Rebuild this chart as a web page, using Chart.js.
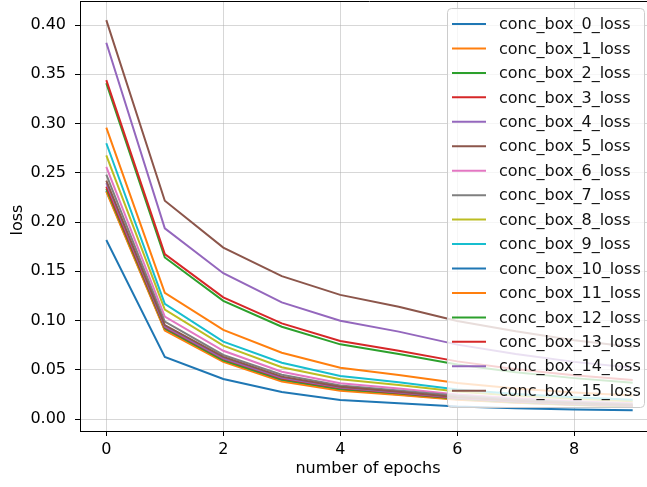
<!DOCTYPE html>
<html>
<head>
<meta charset="utf-8">
<script src="https://cdn.jsdelivr.net/npm/chart.js@4.4.1/dist/chart.umd.min.js"></script>
<style>
  html, body { margin: 0; padding: 0; background: #fff; overflow: hidden; }
  #wrap { width: 647px; height: 487px; overflow: hidden; }
</style>
</head>
<body>
<div id="wrap"><canvas id="myChart" width="680" height="487"></canvas></div>
<script>
// epochs on the x axis
const epochs = [0, 1, 2, 3, 4, 5, 6, 7, 8, 9];
const xTicks = [0, 2, 4, 6, 8];
const yTicks = [0, 0.05, 0.10, 0.15, 0.20, 0.25, 0.30, 0.35, 0.40];

// loss per box
const box0 = [0.1817, 0.063, 0.0406, 0.0274, 0.0193, 0.016, 0.0127, 0.011, 0.0097, 0.0088];
const box1 = [0.2958, 0.128, 0.0904, 0.0673, 0.0521, 0.0447, 0.0365, 0.031, 0.027, 0.0238];
const box2 = [0.341, 0.164, 0.120, 0.0937, 0.0758, 0.066, 0.0553, 0.0475, 0.0415, 0.0368];
const box3 = [0.344, 0.1675, 0.1235, 0.0971, 0.0792, 0.0693, 0.0585, 0.0505, 0.0445, 0.0396];
const box4 = [0.382, 0.1936, 0.148, 0.1184, 0.0998, 0.0887, 0.0755, 0.066, 0.058, 0.052];
const box5 = [0.405, 0.2216, 0.174, 0.145, 0.126, 0.114, 0.0995, 0.089, 0.080, 0.073];
const box6 = [0.256, 0.104, 0.0693, 0.048, 0.0362, 0.031, 0.025, 0.021, 0.018, 0.016];
const box7 = [0.248, 0.099, 0.065, 0.045, 0.034, 0.029, 0.0235, 0.0198, 0.017, 0.015];
const box8 = [0.2677, 0.111, 0.0745, 0.0525, 0.0403, 0.0345, 0.028, 0.0237, 0.0205, 0.018];
const box9 = [0.280, 0.1168, 0.0785, 0.0572, 0.0437, 0.0372, 0.030, 0.0255, 0.022, 0.0195];
const box10 = [0.232, 0.0905, 0.059, 0.039, 0.030, 0.025, 0.020, 0.0168, 0.0145, 0.0127];
const box11 = [0.2308, 0.0897, 0.058, 0.038, 0.0287, 0.0244, 0.0195, 0.0165, 0.0143, 0.0125];
const box12 = [0.234, 0.092, 0.0595, 0.040, 0.0305, 0.0258, 0.0205, 0.0172, 0.0148, 0.013];
const box13 = [0.236, 0.093, 0.061, 0.041, 0.0315, 0.0265, 0.021, 0.0177, 0.0152, 0.0134];
const box14 = [0.2396, 0.094, 0.0615, 0.0418, 0.032, 0.027, 0.0215, 0.018, 0.0155, 0.0137];
const box15 = [0.242, 0.0954, 0.063, 0.043, 0.0328, 0.0277, 0.022, 0.0185, 0.016, 0.014];

const boxes = [box0, box1, box2, box3, box4, box5, box6, box7, box8, box9,
               box10, box11, box12, box13, box14, box15];
const labels = boxes.map((b, i) => 'conc_box_' + i + '_loss');
const tab10 = ['#1f77b4', '#ff7f0e', '#2ca02c', '#d62728', '#9467bd',
               '#8c564b', '#e377c2', '#7f7f7f', '#bcbd22', '#17becf'];

const FONT = 'DejaVu Sans';
const FS = 16;

// top spine, axis titles and the legend box inside the plot
const extras = {
    id: 'extras',
    afterDraw(chart) {
        const ctx = chart.ctx;
        const a = chart.chartArea;
        ctx.save();
        ctx.strokeStyle = '#000';
        ctx.lineWidth = 1;
        ctx.beginPath();
        ctx.moveTo(a.left, a.top + 0.5);
        ctx.lineTo(a.right, a.top + 0.5);
        ctx.stroke();

        ctx.fillStyle = '#000';
        ctx.font = FS + 'px "' + FONT + '"';
        ctx.textAlign = 'center';
        ctx.textBaseline = 'middle';
        ctx.fillText('number of epochs', 368, 469);
        ctx.save();
        ctx.translate(18, 220);
        ctx.rotate(-Math.PI / 2);
        ctx.fillText('loss', 0, 0);
        ctx.restore();

        // legend
        const lx = 447.5, ly = 8.5, lw = 197, lh = 399, r = 4;
        ctx.beginPath();
        ctx.roundRect(lx, ly, lw, lh, r);
        ctx.fillStyle = 'rgba(255,255,255,0.8)';
        ctx.fill();
        ctx.strokeStyle = '#cccccc';
        ctx.lineWidth = 1;
        ctx.stroke();

        ctx.textAlign = 'left';
        chart.data.datasets.forEach((ds, i) => {
            const y = 24 + i * 24.45;
            ctx.strokeStyle = ds.borderColor;
            ctx.lineWidth = 2;
            ctx.beginPath();
            ctx.moveTo(452, y);
            ctx.lineTo(486, y);
            ctx.stroke();
            ctx.fillStyle = '#111';
            ctx.fillText(ds.label, 499, y + 1);
        });
        ctx.restore();
    }
};

const ctx = document.getElementById('myChart').getContext('2d');
const chart = new Chart(ctx, {
    type: 'line',
    data: {
        labels: epochs,
        datasets: boxes.map((b, i) => ({
            label: labels[i],
            data: b.map((v, j) => ({ x: epochs[j], y: v })),
            borderColor: tab10[i % 10],
            backgroundColor: tab10[i % 10],
            borderWidth: 2,
            pointRadius: 0,
            tension: 0,
            fill: false,
            order: boxes.length - i
        }))
    },
    options: {
        responsive: false,
        animation: false,
        devicePixelRatio: 1,
        layout: { padding: { top: 1, left: 0, right: 21, bottom: 0 } },
        plugins: {
            legend: { display: false },
            tooltip: { enabled: false }
        },
        scales: {
            x: {
                type: 'linear',
                min: -0.45,
                max: 9.45,
                afterBuildTicks: (scale) => { scale.ticks = xTicks.map(v => ({ value: v })); },
                afterFit: (scale) => {
                    scale.height = 56;
                    scale.paddingLeft = 0;
                    scale.paddingRight = 0;
                },
                grid: { color: 'rgba(176,176,176,0.5)', lineWidth: 1, tickLength: 5, tickColor: '#000' },
                border: { display: true, color: '#000', width: 1 },
                ticks: {
                    color: '#000',
                    padding: 4,
                    maxRotation: 0,
                    font: { family: FONT, size: FS },
                    callback: (v) => String(v)
                }
            },
            y: {
                min: -0.01218,
                max: 0.4244,
                afterBuildTicks: (scale) => { scale.ticks = yTicks.map(v => ({ value: v })); },
                afterFit: (scale) => {
                    scale.width = 80;
                    scale.paddingTop = 0;
                    scale.paddingBottom = 0;
                },
                grid: { color: 'rgba(176,176,176,0.5)', lineWidth: 1, tickLength: 5, tickColor: '#000' },
                border: { display: true, color: '#000', width: 1 },
                ticks: {
                    color: '#000',
                    padding: 9,
                    font: { family: FONT, size: FS },
                    callback: (v) => Number(v).toFixed(2)
                }
            }
        }
    },
    plugins: [extras]
});
</script>
</body>
</html>
